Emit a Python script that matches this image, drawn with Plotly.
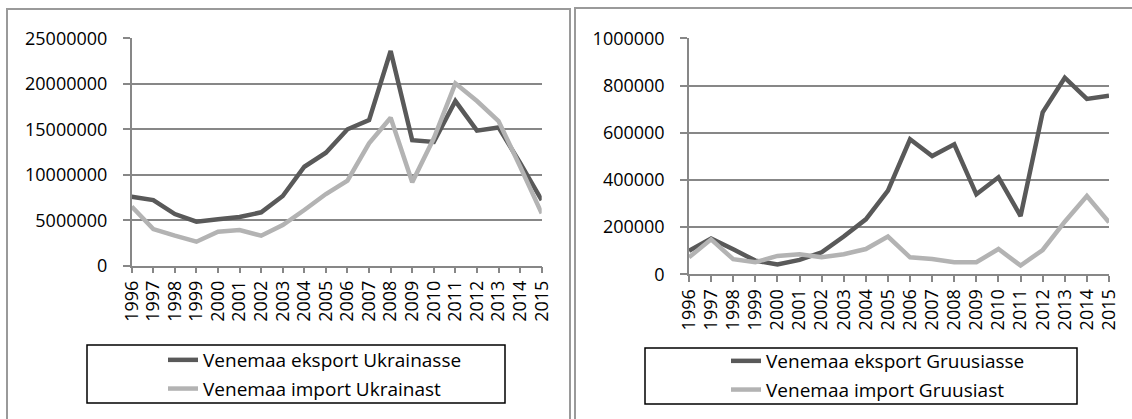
import plotly.graph_objects as go

years = list(range(1996, 2016))

export_ukr = [7590000, 7220000, 5680000, 4840000, 5100000, 5350000, 5870000, 7660000,
              10880000, 12420000, 15000000, 16000000, 23600000, 13800000, 13600000,
              18100000, 14850000, 15200000, 11300000, 7200000]
import_ukr = [6500000, 4030000, 3300000, 2640000, 3740000, 3920000, 3300000, 4470000,
              6120000, 7880000, 9350000, 13450000, 16270000, 9170000, 14000000,
              20050000, 18100000, 15900000, 10900000, 5750000]

export_geo = [100000, 152000, 106000, 58000, 42000, 61000, 93000, 160000, 233000, 355000,
              572000, 501000, 551000, 339000, 411000, 247000, 686000, 833000, 743000, 757000]
import_geo = [72000, 148000, 64000, 51000, 78000, 85000, 72000, 85000, 107000, 160000,
              72000, 65000, 51000, 51000, 107000, 37000, 103000, 223000, 332000, 220000]

names_left = ["Venemaa eksport Ukrainasse", "Venemaa import Ukrainast"]
names_right = ["Venemaa eksport Gruusiasse", "Venemaa import Gruusiast"]

W, H = 1132, 419
DARK = "#595959"
LIGHT = "#b3b3b3"
GRID = "#878787"
FONT = "Open Sans"


def px(x):
    return x / W


def py(y):
    return 1 - y / H


fig = go.Figure()
fig.add_trace(go.Scatter(x=years, y=export_ukr, mode="lines", name=names_left[0], legendgroup="a",
                         line=dict(color=DARK, width=4.5), xaxis="x", yaxis="y", legend="legend"))
fig.add_trace(go.Scatter(x=years, y=import_ukr, mode="lines", name=names_left[1], legendgroup="b",
                         line=dict(color=LIGHT, width=4.5), xaxis="x", yaxis="y", legend="legend"))
fig.add_trace(go.Scatter(x=years, y=export_geo, mode="lines", name=names_right[0], legendgroup="c",
                         line=dict(color=DARK, width=4.5), xaxis="x2", yaxis="y2", legend="legend2"))
fig.add_trace(go.Scatter(x=years, y=import_geo, mode="lines", name=names_right[1], legendgroup="d",
                         line=dict(color=LIGHT, width=4.5), xaxis="x2", yaxis="y2", legend="legend2"))

xcommon = dict(range=[1996, 2015], tickvals=years, ticktext=[str(y) for y in years],
               tickangle=-90, showgrid=False, showline=True, linecolor=GRID, linewidth=1.5,
               ticks="outside", ticklen=6, tickcolor=GRID, tickwidth=1.5, zeroline=False,
               automargin=False,
               tickfont=dict(family=FONT, size=18, color="black"), fixedrange=True)
ycommon = dict(showgrid=True, gridcolor=GRID, gridwidth=1.5, showline=True, linecolor=GRID,
               linewidth=1.5, ticks="outside", ticklen=7, tickcolor=GRID, tickwidth=1.5,
               zeroline=False, tickformat="d", ticklabelstandoff=12, automargin=False,
               tickfont=dict(family=FONT, size=18, color="black"), fixedrange=True)

legcommon = dict(bgcolor="rgba(0,0,0,0)", borderwidth=0, font=dict(family=FONT, size=19, color="black"),
                 xanchor="left", yanchor="top", orientation="v", tracegroupgap=1)

fig.update_layout(
    template="none",
    width=W, height=H, margin=dict(l=0, r=0, t=0, b=0, autoexpand=False),
    paper_bgcolor="white", plot_bgcolor="white",
    xaxis=dict(domain=[px(131.7), px(541.7)], anchor="y", **xcommon),
    yaxis=dict(domain=[py(265.7), py(38.3)], anchor="x", range=[0, 25000000], dtick=5000000, **ycommon),
    xaxis2=dict(domain=[px(689), px(1109)], anchor="y2", **xcommon),
    yaxis2=dict(domain=[py(274.3), py(38.3)], anchor="x2", range=[0, 1000000], dtick=200000, **ycommon),
    legend=dict(x=px(163), y=py(341), **legcommon),
    legend2=dict(x=px(726), y=py(342), **legcommon),
    shapes=[
        dict(type="rect", xref="paper", yref="paper", x0=px(7), x1=px(570), y0=py(430), y1=py(9),
             line=dict(color="#9a9a9a", width=2)),
        dict(type="rect", xref="paper", yref="paper", x0=px(575), x1=px(1145), y0=py(430), y1=py(8),
             line=dict(color="#9a9a9a", width=2)),
        dict(type="rect", xref="paper", yref="paper", x0=px(87), x1=px(505), y0=py(403), y1=py(345),
             line=dict(color="black", width=1.5)),
        dict(type="rect", xref="paper", yref="paper", x0=px(645), x1=px(1077), y0=py(404), y1=py(348),
             line=dict(color="black", width=1.5)),
    ],
    showlegend=True,
)

fig.write_html("out.html", config={"displayModeBar": False},
               post_script="document.body.style.margin='0';document.body.style.overflow='hidden';")
